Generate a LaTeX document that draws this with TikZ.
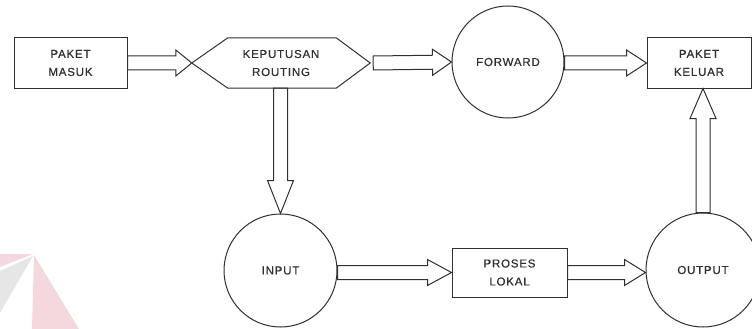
\documentclass[tikz,border=0pt]{standalone}
\usepackage{fontspec}
\setmainfont{Liberation Sans}
\usetikzlibrary{calc}

\definecolor{ink}{HTML}{303030}
\definecolor{wmpink}{HTML}{F4D8DD}
\definecolor{wmgray}{HTML}{E6E6E6}

\tikzset{
  label text/.style={text=ink, font=\fontsize{11.5}{18}\selectfont\addfontfeature{LetterSpace=7,FakeBold=0.6}, align=center},
  procbox/.style={label text, draw=ink, line width=1pt, rectangle, inner sep=0pt},
  procircle/.style={label text, draw=ink, line width=1pt, circle, inner sep=0pt},
  blockarrow/.style={draw=ink, line width=1pt, line join=miter},
}

% hollow block arrow with a closed tail: #1 tail, #2 tip, #3 head length (pt)
\newcommand\hollowarrow[3]{%
  \path ($(#2)!#3pt!(#1)$) coordinate (hb);
  \draw[blockarrow]
    ($(#1)!7pt!90:(#2)$) -- ($(hb)!7pt!90:(#2)$) -- ($(hb)!13pt!90:(#2)$)
    -- (#2) -- ($(hb)!13pt!-90:(#2)$) -- ($(hb)!7pt!-90:(#2)$)
    -- ($(#1)!7pt!-90:(#2)$) -- cycle;
}

\begin{document}
\begin{tikzpicture}[x=1pt, y=-1pt]
  \useasboundingbox (0,0) rectangle (752,329);

  % faint logo in the lower left corner
  \fill[wmpink] (0,254) -- (33,254) -- (0,267) -- cycle;
  \fill[wmgray] (33,256) -- (0,271) -- (0,313) -- cycle;
  \fill[wmpink] (34,255) -- (32,329) -- (79,329) -- cycle;

  % nodes
  \node[procbox, minimum width=113pt, minimum height=50pt] (masuk) at (70.5,63) {PAKET\\MASUK};
  \node[label text, minimum width=178pt, minimum height=50pt, inner sep=0pt] (kr) at (281,63) {KEPUTUSAN\\ROUTING};
  \draw[ink, line width=1pt, line join=miter]
    (kr.west) -- ([xshift=36pt]kr.north west) -- ([xshift=-34pt]kr.north east)
    -- (kr.east) -- ([xshift=-34pt]kr.south east) -- ([xshift=36pt]kr.south west) -- cycle;
  \node[procircle, minimum size=112pt] (fwd) at (508,62) {FORWARD};
  \node[procbox, minimum width=104pt, minimum height=50pt] (keluar) at (699,63) {PAKET\\KELUAR};
  \node[procircle, minimum size=113pt] (in) at (280.5,270.5) {INPUT};
  \node[procbox, minimum width=115pt, minimum height=49pt] (proses) at (509.5,272.5) {PROSES\\LOKAL};
  \node[procircle, minimum size=114pt] (out) at (703,270) {OUTPUT};

  % connectors
  \hollowarrow{masuk.east}{kr.west}{16}
  \hollowarrow{[xshift=3pt]kr.east}{fwd.west}{19}
  \hollowarrow{fwd.east |- kr.east}{keluar.west}{20}
  \hollowarrow{in.north |- kr.south}{in.north}{33}
  \hollowarrow{in.east |- proses.west}{proses.west}{24}
  \hollowarrow{proses.east}{out.west |- proses.east}{21}
  \hollowarrow{out.north}{out.north |- keluar.south}{30}
\end{tikzpicture}
\end{document}
